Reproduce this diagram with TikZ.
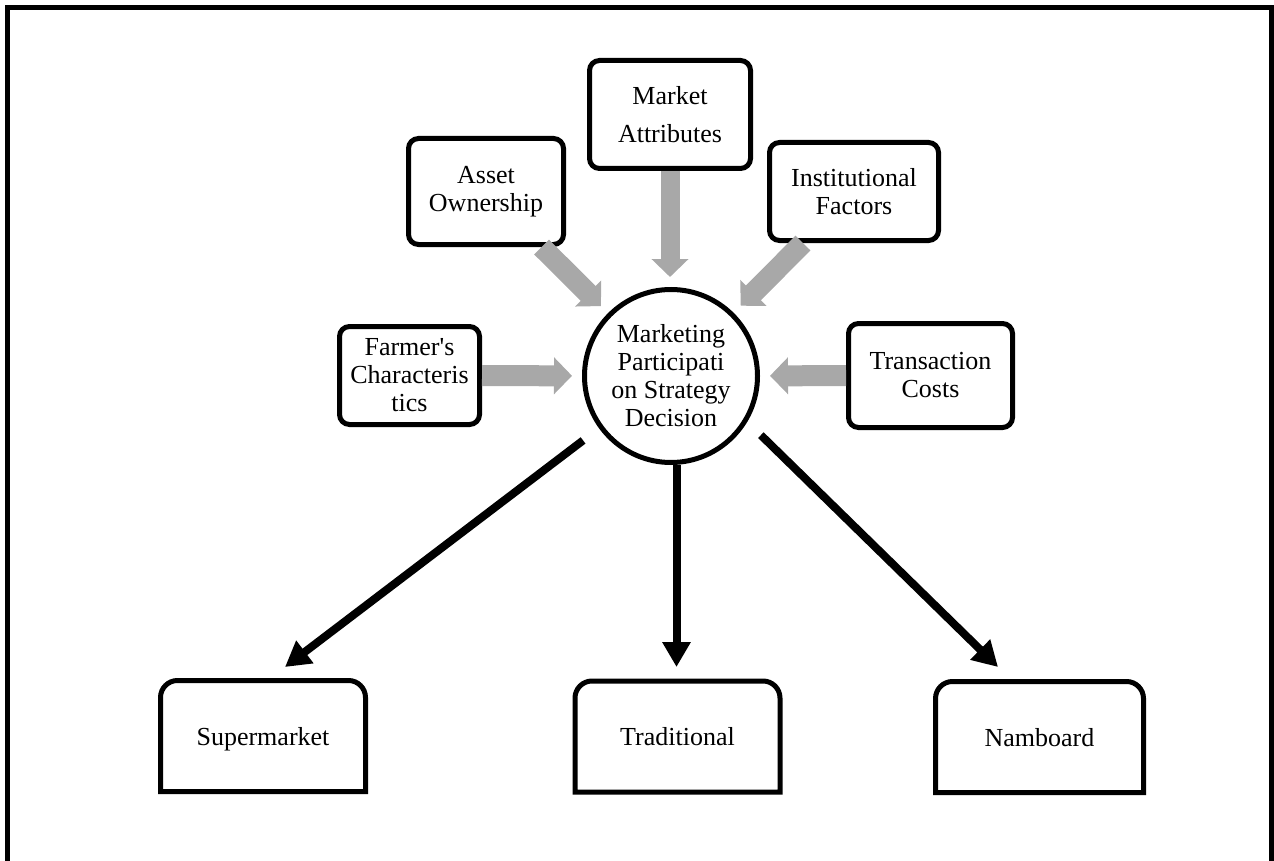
\documentclass[tikz,border=0pt]{standalone}
\usepackage{fontspec}
\setmainfont{Liberation Serif}[Ligatures=TeXOff]
\usetikzlibrary{arrows.meta,calc}
\definecolor{feedgray}{RGB}{168,168,168}
% open-bottom frame for the three outlet boxes: rounded top corners, square bottom
\newcommand\outletframe[1]{%
  \draw[line width=5pt] (#1.south west) -- ([yshift=-17pt]#1.north west)
    arc[start angle=180,end angle=90,radius=17pt] -- ([xshift=-17pt]#1.north east)
    arc[start angle=90,end angle=0,radius=17pt] -- (#1.south east) -- cycle;}
\begin{document}
\begin{tikzpicture}[x=1pt,y=1pt,
  every node/.style={font=\fontsize{26}{28}\selectfont, align=center, inner sep=0pt},
  factor/.style={draw, line width=5pt, rounded corners=10pt},
  hubnode/.style={circle, draw, line width=5pt, minimum size=173pt},
  outlet/.style={minimum width=205pt, minimum height=111pt, outer sep=0pt,
                 text height=22pt, text depth=4pt},
  feed/.style={draw=feedgray, line width=21pt, -{Triangle[width=36pt,length=18pt]}, shorten >=10pt},
  flow/.style={line width=8pt, -{Triangle[width=27pt,length=25pt]}}
]
\useasboundingbox (0,0) rectangle (1274,-861);
\clip (0,0) rectangle (1274,-861);

% outer frame (its lower edge lies below the page)
\draw[line width=5pt] (7,-8) rectangle (1271,-900);

% decision hub
\node[hubnode] (hub) at (671,-376) {Marketing\\Participati\\on Strategy\\Decision};

% influencing factors
\node[factor, minimum width=140pt, minimum height=98pt]  (farmer) at (409.5,-375.5) {Farmer's\\Characteris\\tics};
\node[factor, minimum width=155pt, minimum height=106pt] (asset)  at (486,-191.5)   {Asset\\Ownership};
\node[factor, minimum width=161pt, minimum height=108pt, font=\fontsize{26}{38}\selectfont] (market) at (670,-114.5) {Market\\Attributes};
\node[factor, minimum width=169pt, minimum height=98pt]  (inst)   at (854,-191.5)   {Institutional\\Factors};
\node[factor, minimum width=164pt, minimum height=104pt] (trans)  at (930.5,-375.5) {Transaction\\Costs};

\draw[feed] (farmer) -- (hub);
\draw[feed] (asset)  -- (hub);
\draw[feed, line width=19pt] (market.south) -- (market.south |- hub.north);
\draw[feed] (inst)   -- (hub);
\draw[feed] (trans)  -- (hub);

% market outlets
\node[outlet] (super) at (263,-736)    {Supermarket};
\node[outlet] (trad)  at (677.5,-736.5) {Traditional};
\node[outlet, minimum width=208pt] (namb) at (1039.5,-737) {Namboard};
\outletframe{super}
\outletframe{trad}
\outletframe{namb}

\coordinate (superIn) at (285,-667);
\coordinate (tradIn)  at (676.5,-667);
\coordinate (nambIn)  at (998,-667);

\draw[flow, shorten <=20pt] (hub.-144) -- (superIn);
\draw[flow] (hub.south -| tradIn) -- (tradIn);
\draw[flow, shorten <=19pt] (hub.-31) -- (nambIn);
\end{tikzpicture}
\end{document}
